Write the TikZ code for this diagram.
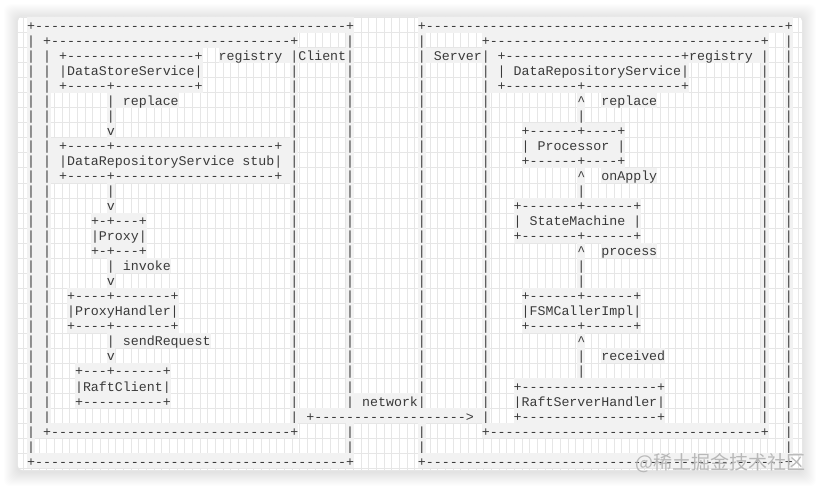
\documentclass[tikz,border=0pt]{standalone}
\usepackage{fontspec}
\setmonofont{Liberation Mono}
\newfontfamily\cjkfont{Noto Sans CJK SC}
\usetikzlibrary{positioning}
\definecolor{hlgray}{HTML}{F2F2F2}
\definecolor{gridgray}{HTML}{E6E6E6}
\definecolor{inkgray}{HTML}{3A3A3A}
\tikzstyle{seg}=[anchor=west,inner sep=0pt,text height=12.8pt,text depth=2.23pt,fill=hlgray,text=inkgray,font=\ttfamily\fontsize{13.29}{15}\selectfont]
\tikzstyle{gridline}=[draw=gridgray,line width=0.6pt]
\newcommand{\hr}[1]{\foreach \k in {1,...,#1}{-}}
\begin{document}
\begin{tikzpicture}[x=7.975pt,y=-15.03pt]
  \useasboundingbox (-3.3856,-1.6633) rectangle (99.436,30.871);
  \fill[white] (-3.3856,-1.6633) rectangle (99.436,30.871);
  \foreach \d in {1,...,14}
    \fill[black,opacity=0.009,rounded corners=6pt] ({-1.129-\d*0.125},{-0.45-\d*0.0665}) rectangle ({97.18+\d*0.125},{29.75+\d*0.0665});
  \fill[white,rounded corners=4pt] (-1.129,-0.532) rectangle (97.18,29.61);
  \begin{scope}
    \clip[rounded corners=4pt] (-1.129,-0.532) rectangle (97.18,29.61);
    \foreach \i in {0,...,101}
      \draw[gridline] ({-0.44+\i*0.9618},-0.532) -- ({-0.44+\i*0.9618},29.61);
    \foreach \r in {0,...,30}
      \draw[gridline] (-1.129,\r-0.5) -- (97.18,\r-0.5);
  \end{scope}
  \foreach \r in {5,6,7,11,12,13,14,15,16,17,18,19,20,21,22,23,24,25,26}
    \node[seg] (lbar\r) at (0,\r) {| |};
  \foreach \r in {3,4,5,6,7,11,12,13,14,15,16,17,18,19,20,21,22,23,24,25}
    \node[seg] (cin\r) at (33,\r) {|};
  \foreach \r in {3,...,24}
    {\node[seg] (cout\r) at (40,\r) {|};
     \node[seg] (sout\r) at (49,\r) {|};}
  \foreach \r in {1,27,28}
    {\node[seg] (cout\r) at (40,\r) {|};
     \node[seg] (sout\r) at (49,\r) {|};}
  \foreach \r in {5,...,25}
    \node[seg] (sin\r) at (57,\r) {|};
  \foreach \r in {3,...,26}
    \node[seg] (sinr\r) at (92,\r) {|};
  \foreach \r in {1,...,28}
    \node[seg] (soutr\r) at (95,\r) {|};
  \node[seg] (ctop) at (0,0) {+\hr{39}+};
  \node[seg] (stop) at (49,0) {+\hr{45}+};
  \node[seg] (cregtop) at (0,1) {| +\hr{30}+};
  \node[seg] (sregtop) at (57,1) {+\hr{34}+};
  \node[seg] (storetop) at (0,2) {| | +\hr{16}+};
  \node[seg] (client) at (24,2) {registry |Client|};
  \node[seg] (server) at (49,2) {| Server| +\hr{22}+registry |};
  \node[seg] (store) at (0,3) {| | |DataStoreService|};
  \node[seg] (repo) at (57,3) {| | DataRepositoryService|};
  \node[seg] (storebot) at (0,4) {| | +\hr{5}+\hr{10}+};
  \node[seg] (repobot) at (57,4) {| +\hr{9}+\hr{12}+};
  \node[seg] (replacel) at (10,5) {| replace};
  \node[seg] (uprepl) at (69,5) {\textasciicircum};
  \node[seg] (replacer) at (72,5) {replace};
  \node[seg] (a6) at (10,6) {|};
  \node[seg] (b6) at (69,6) {|};
  \node[seg] (a7) at (10,7) {v};
  \node[seg] (proctop) at (62,7) {+\hr{6}+\hr{4}+};
  \node[seg] (stubtop) at (0,8) {| | +\hr{5}+\hr{20}+ |};
  \node[seg] (proc) at (62,8) {| Processor |};
  \node[seg] (stub) at (0,9) {| | |DataRepositoryService stub| |};
  \node[seg] (procbot) at (62,9) {+\hr{6}+\hr{4}+};
  \node[seg] (stubbot) at (0,10) {| | +\hr{5}+\hr{20}+ |};
  \node[seg] (upapply) at (69,10) {\textasciicircum};
  \node[seg] (onapply) at (72,10) {onApply};
  \node[seg] (a11) at (10,11) {|};
  \node[seg] (b11) at (69,11) {|};
  \node[seg] (a12) at (10,12) {v};
  \node[seg] (smtop) at (61,12) {+\hr{7}+\hr{6}+};
  \node[seg] (proxytop) at (8,13) {+-+\hr{3}+};
  \node[seg] (sm) at (61,13) {| StateMachine |};
  \node[seg] (proxy) at (8,14) {|Proxy|};
  \node[seg] (smbot) at (61,14) {+\hr{7}+\hr{6}+};
  \node[seg] (proxybot) at (8,15) {+-+\hr{3}+};
  \node[seg] (upproc) at (69,15) {\textasciicircum};
  \node[seg] (process) at (72,15) {process};
  \node[seg] (invoke) at (10,16) {| invoke};
  \node[seg] (b16) at (69,16) {|};
  \node[seg] (a17) at (10,17) {v};
  \node[seg] (b17) at (69,17) {|};
  \node[seg] (handtop) at (5,18) {+\hr{4}+\hr{7}+};
  \node[seg] (fsmtop) at (62,18) {+\hr{6}+\hr{6}+};
  \node[seg] (hand) at (5,19) {|ProxyHandler|};
  \node[seg] (fsm) at (62,19) {|FSMCallerImpl|};
  \node[seg] (handbot) at (5,20) {+\hr{4}+\hr{7}+};
  \node[seg] (fsmbot) at (62,20) {+\hr{6}+\hr{6}+};
  \node[seg] (sendreq) at (10,21) {| sendRequest};
  \node[seg] (uprecv) at (69,21) {\textasciicircum};
  \node[seg] (a22) at (10,22) {v};
  \node[seg] (b22) at (69,22) {|};
  \node[seg] (received) at (72,22) {received};
  \node[seg] (rctop) at (6,23) {+\hr{3}+\hr{6}+};
  \node[seg] (b23) at (69,23) {|};
  \node[seg] (rc) at (6,24) {|RaftClient|};
  \node[seg] (rshtop) at (61,24) {+\hr{17}+};
  \node[seg] (rcbot) at (6,25) {+\hr{10}+};
  \node[seg] (network) at (40,25) {| network|};
  \node[seg] (rsh) at (61,25) {|RaftServerHandler|};
  \node[seg] (netarrow) at (33,26) {| +\hr{19}> |};
  \node[seg] (rshbot) at (61,26) {+\hr{17}+};
  \node[seg] (cregbot) at (0,27) {| +\hr{30}+};
  \node[seg] (sregbot) at (57,27) {+\hr{34}+};
  \node[seg] (c28) at (0,28) {|};
  \node[seg] (cbot) at (0,29) {+\hr{39}+};
  \node[seg] (sbot) at (49,29) {+\hr{45}+};
  \node[anchor=east,inner sep=0pt,text=black!28,font=\cjkfont\fontsize{19}{19}\selectfont] (mark) at (97.68,29.14) {@稀土掘金技术社区};
\end{tikzpicture}
\end{document}
